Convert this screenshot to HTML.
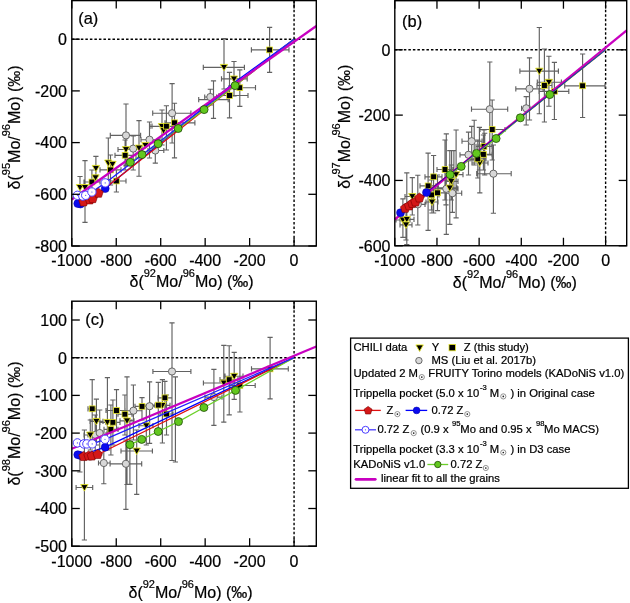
<!DOCTYPE html><html><head><meta charset="utf-8"><title>Mo isotopes</title>
<style>html,body{margin:0;padding:0;background:#fff;width:630px;height:603px;overflow:hidden}svg{display:block;font-family:"Liberation Sans", sans-serif;will-change:transform} text{stroke:#000;stroke-width:0.22px}</style></head><body>
<svg width="630" height="603" viewBox="0 0 630 603" font-size="16" fill="#000">
<line x1="71.8" y1="39.2" x2="316.3" y2="39.2" stroke="#000" stroke-width="1.4" stroke-dasharray="2.5 2.02"/>
<line x1="294.07" y1="0.6" x2="294.07" y2="246" stroke="#000" stroke-width="1.4" stroke-dasharray="2.5 2.02"/>
<path d="M198.7 99.6H228.2M198.7 97V102.2M228.2 97V102.2M213.5 80.8V118.3M210.9 80.8H216.1M210.9 118.3H216.1M204.7 97H216.6M204.7 94.4V99.6M216.6 94.4V99.6M210.3 89.2V105M207.7 89.2H212.9M207.7 105H212.9M152.7 113.2H190.9M152.7 110.6V115.8M190.9 110.6V115.8M172.1 83.6V143M169.5 83.6H174.7M169.5 143H174.7M110.3 135.4H140.6M110.3 132.8V138M140.6 132.8V138M126 104V166M123.4 104H128.6M123.4 166H128.6M141 139.7H160M141 137.1V142.3M160 137.1V142.3M149.5 122V158M146.9 122H152.1M146.9 158H152.1M126 148.6H142M126 146V151.2M142 146V151.2M133.2 136V170M130.6 136H135.8M130.6 170H135.8M148 150.5H163.8M148 147.9V153.1M163.8 147.9V153.1M155.3 140V163.1M152.7 140H157.9M152.7 163.1H157.9M251.4 49.9H289M251.4 47.3V52.5M289 47.3V52.5M269.6 27.4V72.3M267 27.4H272.2M267 72.3H272.2M229 87.7H255.5M229 85.1V90.3M255.5 85.1V90.3M239.8 69.8V106.3M237.2 69.8H242.4M237.2 106.3H242.4M219 95.5H248M219 92.9V98.1M248 92.9V98.1M229.5 72.3V117.9M226.9 72.3H232.1M226.9 117.9H232.1M165 122.8H194.9M165 120.2V125.4M194.9 120.2V125.4M174.5 103.2V157.8M171.9 103.2H177.1M171.9 157.8H177.1M152 126.2H180M152 123.6V128.8M180 123.6V128.8M166.4 105.7V150M163.8 105.7H169M163.8 150H169M115 155.3H136M115 152.7V157.9M136 152.7V157.9M125.1 140V170M122.5 140H127.7M122.5 170H127.7M100 169.9H121M100 167.3V172.5M121 167.3V172.5M110.5 155V185M107.9 155H113.1M107.9 185H113.1M108 181H126M108 178.4V183.6M126 178.4V183.6M116.4 170V192M113.8 170H119M113.8 192H119M84 182H100M84 179.4V184.6M100 179.4V184.6M91.9 170V195M89.3 170H94.5M89.3 195H94.5M203.3 67.3H244.4M203.3 64.7V69.9M244.4 64.7V69.9M224 38.6V89M221.4 38.6H226.6M221.4 89H226.6M221.5 78.9H247.2M221.5 76.3V81.5M247.2 76.3V81.5M234 61.5V96M231.4 61.5H236.6M231.4 96H236.6M150 126.4H175M150 123.8V129M175 123.8V129M162 110V145M159.4 110H164.6M159.4 145H164.6M118 149.5H135M118 146.9V152.1M135 146.9V152.1M126 135V165M123.4 135H128.6M123.4 165H128.6M139 120.6V176.2M136.4 120.6H141.6M136.4 176.2H141.6M108.3 138V185M105.7 138H110.9M105.7 185H110.9M95.9 156.4V180M93.3 156.4H98.5M93.3 180H98.5M80 176.5V200M77.4 176.5H82.6M77.4 200H82.6M85 160.6V222.3M82.4 160.6H87.6M82.4 222.3H87.6" stroke="#626262" stroke-width="1.15" fill="none"/>
<circle cx="210.3" cy="97" r="3.6" fill="#d8d8d8" stroke="#5a5a5a" stroke-width="0.9"/>
<circle cx="172.1" cy="113.2" r="3.6" fill="#d8d8d8" stroke="#5a5a5a" stroke-width="0.9"/>
<circle cx="126" cy="135.4" r="3.6" fill="#d8d8d8" stroke="#5a5a5a" stroke-width="0.9"/>
<circle cx="149.5" cy="139.7" r="3.6" fill="#d8d8d8" stroke="#5a5a5a" stroke-width="0.9"/>
<circle cx="133.2" cy="148.6" r="3.6" fill="#d8d8d8" stroke="#5a5a5a" stroke-width="0.9"/>
<circle cx="155.3" cy="150.5" r="3.6" fill="#d8d8d8" stroke="#5a5a5a" stroke-width="0.9"/>
<path d="M220.3 64.4H227.7L224 70.9Z" fill="#000" stroke="#e6e62a" stroke-width="0.9"/>
<path d="M230.3 76H237.7L234 82.5Z" fill="#000" stroke="#e6e62a" stroke-width="0.9"/>
<path d="M158.3 123.5H165.7L162 130Z" fill="#000" stroke="#e6e62a" stroke-width="0.9"/>
<path d="M159.8 127.6H167.2L163.5 134.1Z" fill="#000" stroke="#e6e62a" stroke-width="0.9"/>
<path d="M122.3 146.6H129.7L126 153.1Z" fill="#000" stroke="#e6e62a" stroke-width="0.9"/>
<path d="M135.3 145.1H142.7L139 151.6Z" fill="#000" stroke="#e6e62a" stroke-width="0.9"/>
<path d="M141.7 142.4H149.1L145.4 148.9Z" fill="#000" stroke="#e6e62a" stroke-width="0.9"/>
<path d="M104.6 160H112L108.3 166.5Z" fill="#000" stroke="#e6e62a" stroke-width="0.9"/>
<path d="M108.8 161.3H116.2L112.5 167.8Z" fill="#000" stroke="#e6e62a" stroke-width="0.9"/>
<path d="M92.2 165.4H99.6L95.9 171.9Z" fill="#000" stroke="#e6e62a" stroke-width="0.9"/>
<path d="M91.8 174.8H99.2L95.5 181.3Z" fill="#000" stroke="#e6e62a" stroke-width="0.9"/>
<path d="M76.3 184.5H83.7L80 191Z" fill="#000" stroke="#e6e62a" stroke-width="0.9"/>
<path d="M81.3 184.5H88.7L85 191Z" fill="#000" stroke="#e6e62a" stroke-width="0.9"/>
<rect x="266.7" y="47" width="5.8" height="5.8" fill="#000" stroke="#e6e62a" stroke-width="0.8"/>
<rect x="236.9" y="84.8" width="5.8" height="5.8" fill="#000" stroke="#e6e62a" stroke-width="0.8"/>
<rect x="226.6" y="92.6" width="5.8" height="5.8" fill="#000" stroke="#e6e62a" stroke-width="0.8"/>
<rect x="171.6" y="119.9" width="5.8" height="5.8" fill="#000" stroke="#e6e62a" stroke-width="0.8"/>
<rect x="163.5" y="123.3" width="5.8" height="5.8" fill="#000" stroke="#e6e62a" stroke-width="0.8"/>
<rect x="122.2" y="152.4" width="5.8" height="5.8" fill="#000" stroke="#e6e62a" stroke-width="0.8"/>
<rect x="107.6" y="167" width="5.8" height="5.8" fill="#000" stroke="#e6e62a" stroke-width="0.8"/>
<rect x="113.5" y="178.1" width="5.8" height="5.8" fill="#000" stroke="#e6e62a" stroke-width="0.8"/>
<rect x="89" y="179.1" width="5.8" height="5.8" fill="#000" stroke="#e6e62a" stroke-width="0.8"/>
<polyline points="294.07,39.2 235,82 105.2,188.6 80.5,204 77.8,203.6" fill="none" stroke="#0000ff" stroke-width="1.3" stroke-linejoin="round"/>
<polyline points="294.07,39.2 98.5,193.2 92.7,198.6 89.8,199.9 83.6,201.9" fill="none" stroke="#e01010" stroke-width="1.3" stroke-linejoin="round"/>
<polyline points="294.07,39.2 235.1,85.6 204.1,109.6 178.2,128.5 158.1,143.7 142,154.6 130.3,162.3" fill="none" stroke="#6cd02a" stroke-width="1.3" stroke-linejoin="round"/>
<polyline points="294.07,39.2 105.2,182.9 91.9,192 85.7,195.3 82.8,196.1 77.4,195.3" fill="none" stroke="#1e1eff" stroke-width="1.3" stroke-linejoin="round"/>
<polyline points="71.8,199.5 316.3,26" fill="none" stroke="#c800c0" stroke-width="2.2" stroke-linejoin="round"/>
<circle cx="105.2" cy="188.6" r="4.0" fill="#0a0aee" stroke="#0000a0" stroke-width="0.5"/>
<circle cx="80.5" cy="204" r="4.0" fill="#0a0aee" stroke="#0000a0" stroke-width="0.5"/>
<circle cx="77.8" cy="203.6" r="4.0" fill="#0a0aee" stroke="#0000a0" stroke-width="0.5"/>
<polygon points="83.6,196.9 88.36,200.35 86.54,205.95 80.66,205.95 78.84,200.35" fill="#d41818" stroke="#7a0000" stroke-width="0.6"/>
<polygon points="89.8,194.9 94.56,198.35 92.74,203.95 86.86,203.95 85.04,198.35" fill="#d41818" stroke="#7a0000" stroke-width="0.6"/>
<polygon points="92.7,193.6 97.46,197.05 95.64,202.65 89.76,202.65 87.94,197.05" fill="#d41818" stroke="#7a0000" stroke-width="0.6"/>
<polygon points="98.5,188.2 103.26,191.65 101.44,197.25 95.56,197.25 93.74,191.65" fill="#d41818" stroke="#7a0000" stroke-width="0.6"/>
<circle cx="77.4" cy="195.3" r="4.2" fill="#fff" stroke="#4a3cff" stroke-width="1"/><circle cx="77.4" cy="195.3" r="0.6" fill="#4a3cff"/>
<circle cx="82.8" cy="196.1" r="4.2" fill="#fff" stroke="#4a3cff" stroke-width="1"/><circle cx="82.8" cy="196.1" r="0.6" fill="#4a3cff"/>
<circle cx="85.7" cy="195.3" r="4.2" fill="#fff" stroke="#4a3cff" stroke-width="1"/><circle cx="85.7" cy="195.3" r="0.6" fill="#4a3cff"/>
<circle cx="91.9" cy="192" r="4.2" fill="#fff" stroke="#4a3cff" stroke-width="1"/><circle cx="91.9" cy="192" r="0.6" fill="#4a3cff"/>
<circle cx="105.2" cy="182.9" r="4.2" fill="#fff" stroke="#4a3cff" stroke-width="1"/><circle cx="105.2" cy="182.9" r="0.6" fill="#4a3cff"/>
<circle cx="235.1" cy="85.6" r="4.0" fill="#62c81e" stroke="#1e4a06" stroke-width="0.8"/>
<circle cx="204.1" cy="109.6" r="4.0" fill="#62c81e" stroke="#1e4a06" stroke-width="0.8"/>
<circle cx="178.2" cy="128.5" r="4.0" fill="#62c81e" stroke="#1e4a06" stroke-width="0.8"/>
<circle cx="158.1" cy="143.7" r="4.0" fill="#62c81e" stroke="#1e4a06" stroke-width="0.8"/>
<circle cx="142" cy="154.6" r="4.0" fill="#62c81e" stroke="#1e4a06" stroke-width="0.8"/>
<circle cx="130.3" cy="162.3" r="4.0" fill="#62c81e" stroke="#1e4a06" stroke-width="0.8"/>
<rect x="71.8" y="0.6" width="244.5" height="245.4" fill="none" stroke="#000" stroke-width="1.4"/>
<line x1="71.8" y1="246" x2="71.8" y2="238" stroke="#000" stroke-width="1.3"/>
<line x1="71.8" y1="0.6" x2="71.8" y2="8.6" stroke="#000" stroke-width="1.3"/>
<text x="71.8" y="266.3" text-anchor="middle">-1000</text>
<line x1="116.25" y1="246" x2="116.25" y2="238" stroke="#000" stroke-width="1.3"/>
<line x1="116.25" y1="0.6" x2="116.25" y2="8.6" stroke="#000" stroke-width="1.3"/>
<text x="116.25" y="266.3" text-anchor="middle">-800</text>
<line x1="160.71" y1="246" x2="160.71" y2="238" stroke="#000" stroke-width="1.3"/>
<line x1="160.71" y1="0.6" x2="160.71" y2="8.6" stroke="#000" stroke-width="1.3"/>
<text x="160.71" y="266.3" text-anchor="middle">-600</text>
<line x1="205.16" y1="246" x2="205.16" y2="238" stroke="#000" stroke-width="1.3"/>
<line x1="205.16" y1="0.6" x2="205.16" y2="8.6" stroke="#000" stroke-width="1.3"/>
<text x="205.16" y="266.3" text-anchor="middle">-400</text>
<line x1="249.62" y1="246" x2="249.62" y2="238" stroke="#000" stroke-width="1.3"/>
<line x1="249.62" y1="0.6" x2="249.62" y2="8.6" stroke="#000" stroke-width="1.3"/>
<text x="249.62" y="266.3" text-anchor="middle">-200</text>
<line x1="294.07" y1="246" x2="294.07" y2="238" stroke="#000" stroke-width="1.3"/>
<line x1="294.07" y1="0.6" x2="294.07" y2="8.6" stroke="#000" stroke-width="1.3"/>
<text x="294.07" y="266.3" text-anchor="middle">0</text>
<line x1="71.8" y1="39.2" x2="79.8" y2="39.2" stroke="#000" stroke-width="1.3"/>
<line x1="316.3" y1="39.2" x2="308.3" y2="39.2" stroke="#000" stroke-width="1.3"/>
<text x="67" y="45" text-anchor="end">0</text>
<line x1="71.8" y1="90.9" x2="79.8" y2="90.9" stroke="#000" stroke-width="1.3"/>
<line x1="316.3" y1="90.9" x2="308.3" y2="90.9" stroke="#000" stroke-width="1.3"/>
<text x="67" y="96.7" text-anchor="end">-200</text>
<line x1="71.8" y1="142.6" x2="79.8" y2="142.6" stroke="#000" stroke-width="1.3"/>
<line x1="316.3" y1="142.6" x2="308.3" y2="142.6" stroke="#000" stroke-width="1.3"/>
<text x="67" y="148.4" text-anchor="end">-400</text>
<line x1="71.8" y1="194.3" x2="79.8" y2="194.3" stroke="#000" stroke-width="1.3"/>
<line x1="316.3" y1="194.3" x2="308.3" y2="194.3" stroke="#000" stroke-width="1.3"/>
<text x="67" y="200.1" text-anchor="end">-600</text>
<line x1="71.8" y1="246" x2="79.8" y2="246" stroke="#000" stroke-width="1.3"/>
<line x1="316.3" y1="246" x2="308.3" y2="246" stroke="#000" stroke-width="1.3"/>
<text x="67" y="251.8" text-anchor="end">-800</text>
<line x1="394.8" y1="49.8" x2="626.7" y2="49.8" stroke="#000" stroke-width="1.4" stroke-dasharray="2.5 2.02"/>
<line x1="605.62" y1="0.7" x2="605.62" y2="245.75" stroke="#000" stroke-width="1.4" stroke-dasharray="2.5 2.02"/>
<path d="M446 180V204.8M443.4 180H448.6M443.4 204.8H448.6M474.2 120.2V165M471.6 120.2H476.8M471.6 165H476.8M479.4 127.4V170M476.8 127.4H482M476.8 170H482M484.7 133.2V175M482.1 133.2H487.3M482.1 175H487.3M451.6 150.6V190M449 150.6H454.2M449 190H454.2M453.9 150.6V195M451.3 150.6H456.5M451.3 195H456.5M471.5 109.2H507.7M471.5 106.6V111.8M507.7 106.6V111.8M489.8 62V155M487.2 62H492.4M487.2 155H492.4M476.7 173.7H511.2M476.7 171.1V176.3M511.2 171.1V176.3M493.4 145V213.2M490.8 145H496M490.8 213.2H496M521.6 108.3H530M521.6 105.7V110.9M530 105.7V110.9M526.2 96.6V125M523.6 96.6H528.8M523.6 125H528.8M515.8 88.8H543.1M515.8 86.2V91.4M543.1 86.2V91.4M529.5 57.8V120M526.9 57.8H532.1M526.9 120H532.1M462 141.2H482M462 138.6V143.8M482 138.6V143.8M471.7 126.3V160M469.1 126.3H474.3M469.1 160H474.3M460 154.8H478M460 152.2V157.4M478 152.2V157.4M468.5 132.1V175M465.9 132.1H471.1M465.9 175H471.1M435 188.8H458M435 186.2V191.4M458 186.2V191.4M446.3 133.8V234.3M443.7 133.8H448.9M443.7 234.3H448.9M445 193.2H461.7M445 190.6V195.8M461.7 190.6V195.8M452.4 175V212.3M449.8 175H455M449.8 212.3H455M410 204.3H425M410 201.7V206.9M425 201.7V206.9M417.8 175.2V225M415.2 175.2H420.4M415.2 225H420.4M564.7 85.8H605M564.7 83.2V88.4M605 83.2V88.4M582.6 54V117.5M580 54H585.2M580 117.5H585.2M537 85.5H552M537 82.9V88.1M552 82.9V88.1M544.4 49V122M541.8 49H547M541.8 122H547M539 91.3H568.8M539 88.7V93.9M568.8 88.7V93.9M554.4 62.3V119.5M551.8 62.3H557M551.8 119.5H557M480 129.5H505M480 126.9V132.1M505 126.9V132.1M492.2 100V160M489.6 100H494.8M489.6 160H494.8M476 146.4H492M476 143.8V149M492 143.8V149M484 130V163M481.4 130H486.6M481.4 163H486.6M475 154.4H492M475 151.8V157M492 151.8V157M483.4 135V170M480.8 135H486M480.8 170H486M470 158.9H486M470 156.3V161.5M486 156.3V161.5M477.8 140V178M475.2 140H480.4M475.2 178H480.4M437 169.5H453M437 166.9V172.1M453 166.9V172.1M445 140V200M442.4 140H447.6M442.4 200H447.6M425 176.8H442M425 174.2V179.4M442 174.2V179.4M433.6 155.5V213M431 155.5H436.2M431 213H436.2M420 185.9H436M420 183.3V188.5M436 183.3V188.5M428.1 153.1V230.3M425.5 153.1H430.7M425.5 230.3H430.7M430 192.8H445M430 190.2V195.4M445 190.2V195.4M437.5 175V210.6M434.9 175H440.1M434.9 210.6H440.1M424 194.9H439M424 192.3V197.5M439 192.3V197.5M431.5 180V210M428.9 180H434.1M428.9 210H434.1M519.9 71.1H558.4M519.9 68.5V73.7M558.4 68.5V73.7M539.3 27.5V113.7M536.7 27.5H541.9M536.7 113.7H541.9M537.3 82.2H561.4M537.3 79.6V84.8M561.4 79.6V84.8M548.9 56.2V106.2M546.3 56.2H551.5M546.3 106.2H551.5M472 163H488M472 160.4V165.6M488 160.4V165.6M479.8 145V192.9M477.2 145H482.4M477.2 192.9H482.4M445 181.3H458M445 178.7V183.9M458 178.7V183.9M451.3 165V200M448.7 165H453.9M448.7 200H453.9M450 174.6H463M450 172V177.2M463 172V177.2M456.1 130V217.8M453.5 130H458.7M453.5 217.8H458.7M438.5 187.9H457M438.5 185.3V190.5M457 185.3V190.5M449.8 150.6V224.3M447.2 150.6H452.4M447.2 224.3H452.4M426 202H438M426 199.4V204.6M438 199.4V204.6M432 190V213M429.4 190H434.6M429.4 213H434.6M396 220H410M396 217.4V222.6M410 217.4V222.6M402.9 198.8V237.4M400.3 198.8H405.5M400.3 237.4H405.5M400 219.3H414M400 216.7V221.9M414 216.7V221.9M406.8 172.8V244.5M404.2 172.8H409.4M404.2 244.5H409.4M400 224.8H412M400 222.2V227.4M412 222.2V227.4M406 205V240M403.4 205H408.6M403.4 240H408.6M405 196.5H420M405 193.9V199.1M420 193.9V199.1M412.3 177.6V215M409.7 177.6H414.9M409.7 215H414.9" stroke="#626262" stroke-width="1.15" fill="none"/>
<circle cx="489.8" cy="109.2" r="3.6" fill="#d8d8d8" stroke="#5a5a5a" stroke-width="0.9"/>
<circle cx="493.4" cy="173.7" r="3.6" fill="#d8d8d8" stroke="#5a5a5a" stroke-width="0.9"/>
<circle cx="526.2" cy="108.3" r="3.6" fill="#d8d8d8" stroke="#5a5a5a" stroke-width="0.9"/>
<circle cx="529.5" cy="88.8" r="3.6" fill="#d8d8d8" stroke="#5a5a5a" stroke-width="0.9"/>
<circle cx="471.7" cy="141.2" r="3.6" fill="#d8d8d8" stroke="#5a5a5a" stroke-width="0.9"/>
<circle cx="468.5" cy="154.8" r="3.6" fill="#d8d8d8" stroke="#5a5a5a" stroke-width="0.9"/>
<circle cx="446.3" cy="188.8" r="3.6" fill="#d8d8d8" stroke="#5a5a5a" stroke-width="0.9"/>
<circle cx="452.4" cy="193.2" r="3.6" fill="#d8d8d8" stroke="#5a5a5a" stroke-width="0.9"/>
<circle cx="417.8" cy="204.3" r="3.6" fill="#d8d8d8" stroke="#5a5a5a" stroke-width="0.9"/>
<path d="M535.6 68.2H543L539.3 74.7Z" fill="#000" stroke="#e6e62a" stroke-width="0.9"/>
<path d="M545.2 79.3H552.6L548.9 85.8Z" fill="#000" stroke="#e6e62a" stroke-width="0.9"/>
<path d="M476.1 160.1H483.5L479.8 166.6Z" fill="#000" stroke="#e6e62a" stroke-width="0.9"/>
<path d="M447.6 178.4H455L451.3 184.9Z" fill="#000" stroke="#e6e62a" stroke-width="0.9"/>
<path d="M452.4 171.7H459.8L456.1 178.2Z" fill="#000" stroke="#e6e62a" stroke-width="0.9"/>
<path d="M446.1 185H453.5L449.8 191.5Z" fill="#000" stroke="#e6e62a" stroke-width="0.9"/>
<path d="M428.3 199.1H435.7L432 205.6Z" fill="#000" stroke="#e6e62a" stroke-width="0.9"/>
<path d="M399.2 217.1H406.6L402.9 223.6Z" fill="#000" stroke="#e6e62a" stroke-width="0.9"/>
<path d="M403.1 216.4H410.5L406.8 222.9Z" fill="#000" stroke="#e6e62a" stroke-width="0.9"/>
<path d="M402.3 221.9H409.7L406 228.4Z" fill="#000" stroke="#e6e62a" stroke-width="0.9"/>
<path d="M408.6 193.6H416L412.3 200.1Z" fill="#000" stroke="#e6e62a" stroke-width="0.9"/>
<rect x="579.7" y="82.9" width="5.8" height="5.8" fill="#000" stroke="#e6e62a" stroke-width="0.8"/>
<rect x="541.5" y="82.6" width="5.8" height="5.8" fill="#000" stroke="#e6e62a" stroke-width="0.8"/>
<rect x="551.5" y="88.4" width="5.8" height="5.8" fill="#000" stroke="#e6e62a" stroke-width="0.8"/>
<rect x="489.3" y="126.6" width="5.8" height="5.8" fill="#000" stroke="#e6e62a" stroke-width="0.8"/>
<rect x="481.1" y="143.5" width="5.8" height="5.8" fill="#000" stroke="#e6e62a" stroke-width="0.8"/>
<rect x="480.5" y="151.5" width="5.8" height="5.8" fill="#000" stroke="#e6e62a" stroke-width="0.8"/>
<rect x="474.9" y="156" width="5.8" height="5.8" fill="#000" stroke="#e6e62a" stroke-width="0.8"/>
<rect x="442.1" y="166.6" width="5.8" height="5.8" fill="#000" stroke="#e6e62a" stroke-width="0.8"/>
<rect x="430.7" y="173.9" width="5.8" height="5.8" fill="#000" stroke="#e6e62a" stroke-width="0.8"/>
<rect x="425.2" y="183" width="5.8" height="5.8" fill="#000" stroke="#e6e62a" stroke-width="0.8"/>
<rect x="434.6" y="189.9" width="5.8" height="5.8" fill="#000" stroke="#e6e62a" stroke-width="0.8"/>
<rect x="428.6" y="192" width="5.8" height="5.8" fill="#000" stroke="#e6e62a" stroke-width="0.8"/>
<polyline points="394.8,219.5 626.7,30.3" fill="none" stroke="#c800c0" stroke-width="2.3" stroke-linejoin="round"/>
<polyline points="605.62,49.8 419.4,198 415.5,202 412.3,203.5 409.2,205.9 405.2,208.3" fill="none" stroke="#e01010" stroke-width="1.2" stroke-linejoin="round"/>
<polyline points="605.62,49.8 549.8,94.6 520.3,117.8 496.1,138.5 476.5,153.4 461.2,166.4 450.1,174.7" fill="none" stroke="#6cd02a" stroke-width="1.1" stroke-linejoin="round"/>
<polyline points="605.62,49.8 426.5,192.5 400.5,212.7" fill="none" stroke="#0000ff" stroke-width="0.9" stroke-linejoin="round"/>
<circle cx="426.5" cy="192.5" r="4.0" fill="#0a0aee" stroke="#0000a0" stroke-width="0.5"/>
<circle cx="400.5" cy="212.7" r="4.0" fill="#0a0aee" stroke="#0000a0" stroke-width="0.5"/>
<polygon points="405.2,203.3 409.96,206.75 408.14,212.35 402.26,212.35 400.44,206.75" fill="#d41818" stroke="#7a0000" stroke-width="0.6"/>
<polygon points="409.2,200.9 413.96,204.35 412.14,209.95 406.26,209.95 404.44,204.35" fill="#d41818" stroke="#7a0000" stroke-width="0.6"/>
<polygon points="412.3,198.5 417.06,201.95 415.24,207.55 409.36,207.55 407.54,201.95" fill="#d41818" stroke="#7a0000" stroke-width="0.6"/>
<polygon points="415.5,197 420.26,200.45 418.44,206.05 412.56,206.05 410.74,200.45" fill="#d41818" stroke="#7a0000" stroke-width="0.6"/>
<polygon points="419.4,193 424.16,196.45 422.34,202.05 416.46,202.05 414.64,196.45" fill="#d41818" stroke="#7a0000" stroke-width="0.6"/>
<circle cx="549.8" cy="94.6" r="4.0" fill="#62c81e" stroke="#1e4a06" stroke-width="0.8"/>
<circle cx="520.3" cy="117.8" r="4.0" fill="#62c81e" stroke="#1e4a06" stroke-width="0.8"/>
<circle cx="496.1" cy="138.5" r="4.0" fill="#62c81e" stroke="#1e4a06" stroke-width="0.8"/>
<circle cx="476.5" cy="153.4" r="4.0" fill="#62c81e" stroke="#1e4a06" stroke-width="0.8"/>
<circle cx="461.2" cy="166.4" r="4.0" fill="#62c81e" stroke="#1e4a06" stroke-width="0.8"/>
<circle cx="450.1" cy="174.7" r="4.0" fill="#62c81e" stroke="#1e4a06" stroke-width="0.8"/>
<rect x="394.8" y="0.7" width="231.9" height="245.05" fill="none" stroke="#000" stroke-width="1.4"/>
<line x1="394.8" y1="245.75" x2="394.8" y2="237.75" stroke="#000" stroke-width="1.3"/>
<line x1="394.8" y1="0.7" x2="394.8" y2="8.7" stroke="#000" stroke-width="1.3"/>
<text x="394.8" y="266.3" text-anchor="middle">-1000</text>
<line x1="436.96" y1="245.75" x2="436.96" y2="237.75" stroke="#000" stroke-width="1.3"/>
<line x1="436.96" y1="0.7" x2="436.96" y2="8.7" stroke="#000" stroke-width="1.3"/>
<text x="436.96" y="266.3" text-anchor="middle">-800</text>
<line x1="479.13" y1="245.75" x2="479.13" y2="237.75" stroke="#000" stroke-width="1.3"/>
<line x1="479.13" y1="0.7" x2="479.13" y2="8.7" stroke="#000" stroke-width="1.3"/>
<text x="479.13" y="266.3" text-anchor="middle">-600</text>
<line x1="521.29" y1="245.75" x2="521.29" y2="237.75" stroke="#000" stroke-width="1.3"/>
<line x1="521.29" y1="0.7" x2="521.29" y2="8.7" stroke="#000" stroke-width="1.3"/>
<text x="521.29" y="266.3" text-anchor="middle">-400</text>
<line x1="563.45" y1="245.75" x2="563.45" y2="237.75" stroke="#000" stroke-width="1.3"/>
<line x1="563.45" y1="0.7" x2="563.45" y2="8.7" stroke="#000" stroke-width="1.3"/>
<text x="563.45" y="266.3" text-anchor="middle">-200</text>
<line x1="605.62" y1="245.75" x2="605.62" y2="237.75" stroke="#000" stroke-width="1.3"/>
<line x1="605.62" y1="0.7" x2="605.62" y2="8.7" stroke="#000" stroke-width="1.3"/>
<text x="605.62" y="266.3" text-anchor="middle">0</text>
<line x1="394.8" y1="49.8" x2="402.8" y2="49.8" stroke="#000" stroke-width="1.3"/>
<line x1="626.7" y1="49.8" x2="618.7" y2="49.8" stroke="#000" stroke-width="1.3"/>
<text x="390.5" y="55.6" text-anchor="end">0</text>
<line x1="394.8" y1="115.12" x2="402.8" y2="115.12" stroke="#000" stroke-width="1.3"/>
<line x1="626.7" y1="115.12" x2="618.7" y2="115.12" stroke="#000" stroke-width="1.3"/>
<text x="390.5" y="120.92" text-anchor="end">-200</text>
<line x1="394.8" y1="180.44" x2="402.8" y2="180.44" stroke="#000" stroke-width="1.3"/>
<line x1="626.7" y1="180.44" x2="618.7" y2="180.44" stroke="#000" stroke-width="1.3"/>
<text x="390.5" y="186.24" text-anchor="end">-400</text>
<line x1="394.8" y1="245.76" x2="402.8" y2="245.76" stroke="#000" stroke-width="1.3"/>
<line x1="626.7" y1="245.76" x2="618.7" y2="245.76" stroke="#000" stroke-width="1.3"/>
<text x="390.5" y="251.56" text-anchor="end">-600</text>
<line x1="71.8" y1="357.7" x2="316.3" y2="357.7" stroke="#000" stroke-width="1.4" stroke-dasharray="2.5 2.02"/>
<line x1="294.07" y1="301.2" x2="294.07" y2="546.2" stroke="#000" stroke-width="1.4" stroke-dasharray="2.5 2.02"/>
<path d="M175.4 376.8V462M172.8 376.8H178M172.8 462H178M129.9 420V484.3M127.3 420H132.5M127.3 484.3H132.5M79.9 455V472M77.3 455H82.5M77.3 472H82.5M152.9 371.5H190.9M152.9 368.9V374.1M190.9 368.9V374.1M172 322.9V460.5M169.4 322.9H174.6M169.4 460.5H174.6M125 410.7H142M125 408.1V413.3M142 408.1V413.3M133.4 385V440M130.8 385H136M130.8 440H136M142 406.2H158M142 403.6V408.8M158 403.6V408.8M149.6 381.8V443.4M147 381.8H152.2M147 443.4H152.2M88 434.8H102M88 432.2V437.4M102 432.2V437.4M95.2 415V455M92.6 415H97.8M92.6 455H97.8M92 433H107M92 430.4V435.6M107 430.4V435.6M99.7 410V455M97.1 410H102.3M97.1 455H102.3M98.5 463H110.1M98.5 460.4V465.6M110.1 460.4V465.6M103.8 440V483.7M101.2 440H106.4M101.2 483.7H106.4M110.1 463.8H141.7M110.1 461.2V466.4M141.7 461.2V466.4M125.9 440V509.3M123.3 440H128.5M123.3 509.3H128.5M205 397.1H222M205 394.5V399.7M222 394.5V399.7M213.9 369.4V425.4M211.3 369.4H216.5M211.3 425.4H216.5M88 408.8H96M88 406.2V411.4M96 406.2V411.4M92.2 379.6V440M89.6 379.6H94.8M89.6 440H94.8M106 410.5H127M106 407.9V413.1M127 407.9V413.1M116.5 389.6V430M113.9 389.6H119.1M113.9 430H119.1M118 414.2H132M118 411.6V416.8M132 411.6V416.8M124.9 395V435M122.3 395H127.5M122.3 435H127.5M106 422.3H120M106 419.7V424.9M120 419.7V424.9M112.9 400V445M110.3 400H115.5M110.3 445H115.5M104 429.4H118M104 426.8V432M118 426.8V432M110.9 405V455M108.3 405H113.5M108.3 455H113.5M135 406.4H149M135 403.8V409M149 403.8V409M142 397.6V420M139.4 397.6H144.6M139.4 420H144.6M150 405.1H166M150 402.5V407.7M166 402.5V407.7M158.3 382.4V430M155.7 382.4H160.9M155.7 430H160.9M158 397.8H172M158 395.2V400.4M172 395.2V400.4M164.9 381.4V415M162.3 381.4H167.5M162.3 415H167.5M160 414H173M160 411.4V416.6M173 411.4V416.6M166.5 395V435M163.9 395H169.1M163.9 435H169.1M220 379.7H238M220 377.1V382.3M238 377.1V382.3M229.2 345.7V414.9M226.6 345.7H231.8M226.6 414.9H231.8M230 385.5H255.2M230 382.9V388.1M255.2 382.9V388.1M239.9 358.1V412M237.3 358.1H242.5M237.3 412H242.5M251.5 368.9H288.3M251.5 366.3V371.5M288.3 366.3V371.5M270.1 337.4V398.8M267.5 337.4H272.7M267.5 398.8H272.7M90 421.3H103M90 418.7V423.9M103 418.7V423.9M96.4 399.1V445M93.8 399.1H99M93.8 445H99M100 422.3H114M100 419.7V424.9M114 419.7V424.9M107.4 377.6V450M104.8 377.6H110M104.8 450H110M120 420.8H134M120 418.2V423.4M134 418.2V423.4M127 376.8V484.5M124.4 376.8H129.6M124.4 484.5H129.6M84 435H97M84 432.4V437.6M97 432.4V437.6M90.3 420V450M87.7 420H92.9M87.7 450H92.9M139 425.7H153M139 423.1V428.3M153 423.1V428.3M146.3 405V445M143.7 405H148.9M143.7 445H148.9M121 451H152.4M121 448.4V453.6M152.4 448.4V453.6M136.7 430V494.3M134.1 430H139.3M134.1 494.3H139.3M76.1 487.5H92.7M76.1 484.9V490.1M92.7 484.9V490.1M84.4 430V540M81.8 430H87M81.8 540H87M155 405.3H170M155 402.7V407.9M170 402.7V407.9M162.4 379.6V443M159.8 379.6H165M159.8 443H165M225 376.2H243M225 373.6V378.8M243 373.6V378.8M234.2 352.3V399.3M231.6 352.3H236.8M231.6 399.3H236.8M203.4 383H240M203.4 380.4V385.6M240 380.4V385.6M223.8 345.3V422.1M221.2 345.3H226.4M221.2 422.1H226.4" stroke="#626262" stroke-width="1.15" fill="none"/>
<circle cx="172" cy="371.5" r="3.6" fill="#d8d8d8" stroke="#5a5a5a" stroke-width="0.9"/>
<circle cx="133.4" cy="410.7" r="3.6" fill="#d8d8d8" stroke="#5a5a5a" stroke-width="0.9"/>
<circle cx="149.6" cy="406.2" r="3.6" fill="#d8d8d8" stroke="#5a5a5a" stroke-width="0.9"/>
<circle cx="95.2" cy="434.8" r="3.6" fill="#d8d8d8" stroke="#5a5a5a" stroke-width="0.9"/>
<circle cx="99.7" cy="433" r="3.6" fill="#d8d8d8" stroke="#5a5a5a" stroke-width="0.9"/>
<circle cx="103.8" cy="463" r="3.6" fill="#d8d8d8" stroke="#5a5a5a" stroke-width="0.9"/>
<circle cx="125.9" cy="463.8" r="3.6" fill="#d8d8d8" stroke="#5a5a5a" stroke-width="0.9"/>
<circle cx="213.9" cy="397.1" r="3.6" fill="#d8d8d8" stroke="#5a5a5a" stroke-width="0.9"/>
<path d="M92.7 418.4H100.1L96.4 424.9Z" fill="#000" stroke="#e6e62a" stroke-width="0.9"/>
<path d="M103.7 419.4H111.1L107.4 425.9Z" fill="#000" stroke="#e6e62a" stroke-width="0.9"/>
<path d="M123.3 417.9H130.7L127 424.4Z" fill="#000" stroke="#e6e62a" stroke-width="0.9"/>
<path d="M86.6 432.1H94L90.3 438.6Z" fill="#000" stroke="#e6e62a" stroke-width="0.9"/>
<path d="M142.6 422.8H150L146.3 429.3Z" fill="#000" stroke="#e6e62a" stroke-width="0.9"/>
<path d="M133 448.1H140.4L136.7 454.6Z" fill="#000" stroke="#e6e62a" stroke-width="0.9"/>
<path d="M80.7 484.6H88.1L84.4 491.1Z" fill="#000" stroke="#e6e62a" stroke-width="0.9"/>
<path d="M158.7 402.4H166.1L162.4 408.9Z" fill="#000" stroke="#e6e62a" stroke-width="0.9"/>
<path d="M230.5 373.3H237.9L234.2 379.8Z" fill="#000" stroke="#e6e62a" stroke-width="0.9"/>
<path d="M220.1 380.1H227.5L223.8 386.6Z" fill="#000" stroke="#e6e62a" stroke-width="0.9"/>
<rect x="89.3" y="405.9" width="5.8" height="5.8" fill="#000" stroke="#e6e62a" stroke-width="0.8"/>
<rect x="113.6" y="407.6" width="5.8" height="5.8" fill="#000" stroke="#e6e62a" stroke-width="0.8"/>
<rect x="122" y="411.3" width="5.8" height="5.8" fill="#000" stroke="#e6e62a" stroke-width="0.8"/>
<rect x="110" y="419.4" width="5.8" height="5.8" fill="#000" stroke="#e6e62a" stroke-width="0.8"/>
<rect x="108" y="426.5" width="5.8" height="5.8" fill="#000" stroke="#e6e62a" stroke-width="0.8"/>
<rect x="139.1" y="403.5" width="5.8" height="5.8" fill="#000" stroke="#e6e62a" stroke-width="0.8"/>
<rect x="155.4" y="402.2" width="5.8" height="5.8" fill="#000" stroke="#e6e62a" stroke-width="0.8"/>
<rect x="162" y="394.9" width="5.8" height="5.8" fill="#000" stroke="#e6e62a" stroke-width="0.8"/>
<rect x="163.6" y="411.1" width="5.8" height="5.8" fill="#000" stroke="#e6e62a" stroke-width="0.8"/>
<rect x="226.3" y="376.8" width="5.8" height="5.8" fill="#000" stroke="#e6e62a" stroke-width="0.8"/>
<rect x="237" y="382.6" width="5.8" height="5.8" fill="#000" stroke="#e6e62a" stroke-width="0.8"/>
<rect x="267.2" y="366" width="5.8" height="5.8" fill="#000" stroke="#e6e62a" stroke-width="0.8"/>
<polyline points="294.07,357.7 105.2,447.2 80.5,455.5 77.8,454.7" fill="none" stroke="#0000ff" stroke-width="1.3" stroke-linejoin="round"/>
<polyline points="294.07,357.7 97.7,454.5 91.9,456 88.6,456 83.6,456.5" fill="none" stroke="#e01010" stroke-width="1.3" stroke-linejoin="round"/>
<polyline points="294.07,357.7 235.5,390.4 203.9,407.5 178.5,421.6 158.2,431.5 141.7,439.4 130,444.7" fill="none" stroke="#6cd02a" stroke-width="1.3" stroke-linejoin="round"/>
<polyline points="294.07,357.7 105,439.3 92.2,443.9 86.9,443.9 83.8,443.9 77.4,442.9" fill="none" stroke="#1e1eff" stroke-width="1.3" stroke-linejoin="round"/>
<polyline points="71.8,448.8 316.3,346.5" fill="none" stroke="#c800c0" stroke-width="2.2" stroke-linejoin="round"/>
<circle cx="105.2" cy="447.2" r="4.0" fill="#0a0aee" stroke="#0000a0" stroke-width="0.5"/>
<circle cx="80.5" cy="455.5" r="4.0" fill="#0a0aee" stroke="#0000a0" stroke-width="0.5"/>
<circle cx="77.8" cy="454.7" r="4.0" fill="#0a0aee" stroke="#0000a0" stroke-width="0.5"/>
<polygon points="83.6,451.5 88.36,454.95 86.54,460.55 80.66,460.55 78.84,454.95" fill="#d41818" stroke="#7a0000" stroke-width="0.6"/>
<polygon points="88.6,451 93.36,454.45 91.54,460.05 85.66,460.05 83.84,454.45" fill="#d41818" stroke="#7a0000" stroke-width="0.6"/>
<polygon points="91.9,451 96.66,454.45 94.84,460.05 88.96,460.05 87.14,454.45" fill="#d41818" stroke="#7a0000" stroke-width="0.6"/>
<polygon points="97.7,449.5 102.46,452.95 100.64,458.55 94.76,458.55 92.94,452.95" fill="#d41818" stroke="#7a0000" stroke-width="0.6"/>
<circle cx="77.4" cy="442.9" r="4.2" fill="#fff" stroke="#4a3cff" stroke-width="1"/><circle cx="77.4" cy="442.9" r="0.6" fill="#4a3cff"/>
<circle cx="83.8" cy="443.9" r="4.2" fill="#fff" stroke="#4a3cff" stroke-width="1"/><circle cx="83.8" cy="443.9" r="0.6" fill="#4a3cff"/>
<circle cx="86.9" cy="443.9" r="4.2" fill="#fff" stroke="#4a3cff" stroke-width="1"/><circle cx="86.9" cy="443.9" r="0.6" fill="#4a3cff"/>
<circle cx="92.2" cy="443.9" r="4.2" fill="#fff" stroke="#4a3cff" stroke-width="1"/><circle cx="92.2" cy="443.9" r="0.6" fill="#4a3cff"/>
<circle cx="105" cy="439.3" r="4.2" fill="#fff" stroke="#4a3cff" stroke-width="1"/><circle cx="105" cy="439.3" r="0.6" fill="#4a3cff"/>
<circle cx="235.5" cy="390.4" r="4.0" fill="#62c81e" stroke="#1e4a06" stroke-width="0.8"/>
<circle cx="203.9" cy="407.5" r="4.0" fill="#62c81e" stroke="#1e4a06" stroke-width="0.8"/>
<circle cx="178.5" cy="421.6" r="4.0" fill="#62c81e" stroke="#1e4a06" stroke-width="0.8"/>
<circle cx="158.2" cy="431.5" r="4.0" fill="#62c81e" stroke="#1e4a06" stroke-width="0.8"/>
<circle cx="141.7" cy="439.4" r="4.0" fill="#62c81e" stroke="#1e4a06" stroke-width="0.8"/>
<circle cx="130" cy="444.7" r="4.0" fill="#62c81e" stroke="#1e4a06" stroke-width="0.8"/>
<rect x="71.8" y="301.2" width="244.5" height="245" fill="none" stroke="#000" stroke-width="1.4"/>
<line x1="71.8" y1="546.2" x2="71.8" y2="538.2" stroke="#000" stroke-width="1.3"/>
<line x1="71.8" y1="301.2" x2="71.8" y2="309.2" stroke="#000" stroke-width="1.3"/>
<text x="71.8" y="566.8" text-anchor="middle">-1000</text>
<line x1="116.25" y1="546.2" x2="116.25" y2="538.2" stroke="#000" stroke-width="1.3"/>
<line x1="116.25" y1="301.2" x2="116.25" y2="309.2" stroke="#000" stroke-width="1.3"/>
<text x="116.25" y="566.8" text-anchor="middle">-800</text>
<line x1="160.71" y1="546.2" x2="160.71" y2="538.2" stroke="#000" stroke-width="1.3"/>
<line x1="160.71" y1="301.2" x2="160.71" y2="309.2" stroke="#000" stroke-width="1.3"/>
<text x="160.71" y="566.8" text-anchor="middle">-600</text>
<line x1="205.16" y1="546.2" x2="205.16" y2="538.2" stroke="#000" stroke-width="1.3"/>
<line x1="205.16" y1="301.2" x2="205.16" y2="309.2" stroke="#000" stroke-width="1.3"/>
<text x="205.16" y="566.8" text-anchor="middle">-400</text>
<line x1="249.62" y1="546.2" x2="249.62" y2="538.2" stroke="#000" stroke-width="1.3"/>
<line x1="249.62" y1="301.2" x2="249.62" y2="309.2" stroke="#000" stroke-width="1.3"/>
<text x="249.62" y="566.8" text-anchor="middle">-200</text>
<line x1="294.07" y1="546.2" x2="294.07" y2="538.2" stroke="#000" stroke-width="1.3"/>
<line x1="294.07" y1="301.2" x2="294.07" y2="309.2" stroke="#000" stroke-width="1.3"/>
<text x="294.07" y="566.8" text-anchor="middle">0</text>
<line x1="71.8" y1="320" x2="79.8" y2="320" stroke="#000" stroke-width="1.3"/>
<line x1="316.3" y1="320" x2="308.3" y2="320" stroke="#000" stroke-width="1.3"/>
<text x="67" y="325.8" text-anchor="end">100</text>
<line x1="71.8" y1="357.7" x2="79.8" y2="357.7" stroke="#000" stroke-width="1.3"/>
<line x1="316.3" y1="357.7" x2="308.3" y2="357.7" stroke="#000" stroke-width="1.3"/>
<text x="67" y="363.5" text-anchor="end">0</text>
<line x1="71.8" y1="395.4" x2="79.8" y2="395.4" stroke="#000" stroke-width="1.3"/>
<line x1="316.3" y1="395.4" x2="308.3" y2="395.4" stroke="#000" stroke-width="1.3"/>
<text x="67" y="401.2" text-anchor="end">-100</text>
<line x1="71.8" y1="433.1" x2="79.8" y2="433.1" stroke="#000" stroke-width="1.3"/>
<line x1="316.3" y1="433.1" x2="308.3" y2="433.1" stroke="#000" stroke-width="1.3"/>
<text x="67" y="438.9" text-anchor="end">-200</text>
<line x1="71.8" y1="470.8" x2="79.8" y2="470.8" stroke="#000" stroke-width="1.3"/>
<line x1="316.3" y1="470.8" x2="308.3" y2="470.8" stroke="#000" stroke-width="1.3"/>
<text x="67" y="476.6" text-anchor="end">-300</text>
<line x1="71.8" y1="508.5" x2="79.8" y2="508.5" stroke="#000" stroke-width="1.3"/>
<line x1="316.3" y1="508.5" x2="308.3" y2="508.5" stroke="#000" stroke-width="1.3"/>
<text x="67" y="514.3" text-anchor="end">-400</text>
<line x1="71.8" y1="546.2" x2="79.8" y2="546.2" stroke="#000" stroke-width="1.3"/>
<line x1="316.3" y1="546.2" x2="308.3" y2="546.2" stroke="#000" stroke-width="1.3"/>
<text x="67" y="552" text-anchor="end">-500</text>
<text x="78.2" y="24.1" font-size="16.4">(a)</text>
<text x="402.1" y="26.8" font-size="16.4">(b)</text>
<text x="85.2" y="325" font-size="16.4">(c)</text>
<text x="129.5" y="286.5">δ(<tspan dy="-10" font-size="11">92</tspan><tspan dy="10">Mo/</tspan><tspan dy="-10" font-size="11">96</tspan><tspan dy="10">Mo) (‰)</tspan></text>
<text x="452.8" y="288">δ(<tspan dy="-10" font-size="11">92</tspan><tspan dy="10">Mo/</tspan><tspan dy="-10" font-size="11">96</tspan><tspan dy="10">Mo) (‰)</tspan></text>
<text x="128.5" y="597.9">δ(<tspan dy="-10" font-size="11">92</tspan><tspan dy="10">Mo/</tspan><tspan dy="-10" font-size="11">96</tspan><tspan dy="10">Mo) (‰)</tspan></text>
<text transform="translate(20.4,127.4) rotate(-90)" text-anchor="middle">δ(<tspan dy="-10" font-size="11">95</tspan><tspan dy="10">Mo/</tspan><tspan dy="-10" font-size="11">96</tspan><tspan dy="10">Mo) (‰)</tspan></text>
<text transform="translate(349.8,126.7) rotate(-90)" text-anchor="middle">δ(<tspan dy="-10" font-size="11">97</tspan><tspan dy="10">Mo/</tspan><tspan dy="-10" font-size="11">96</tspan><tspan dy="10">Mo) (‰)</tspan></text>
<text transform="translate(20.4,423.5) rotate(-90)" text-anchor="middle">δ(<tspan dy="-10" font-size="11">98</tspan><tspan dy="10">Mo/</tspan><tspan dy="-10" font-size="11">96</tspan><tspan dy="10">Mo) (‰)</tspan></text>
<rect x="350.6" y="338.1" width="277.8" height="150.2" fill="#fff" stroke="#000" stroke-width="1.3"/>
<g font-size="11.25">
<text x="353.5" y="351.3">CHILI data</text>
<path d="M415.9 344.9H423.3L419.6 351.4Z" fill="#000" stroke="#e6e62a" stroke-width="0.9"/>
<text x="431.8" y="351.3">Y</text>
<rect x="449" y="344.4" width="6.4" height="6.4" fill="#000" stroke="#e6e62a" stroke-width="0.8"/>
<text x="463.8" y="351.3">Z (this study)</text>
<circle cx="418.9" cy="360.6" r="3.2" fill="#d8d8d8" stroke="#5a5a5a" stroke-width="0.9"/>
<text x="431.5" y="364.4">MS (Liu et al. 2017b)</text>
<text x="353.5" y="377.1" id="upd">Updated 2 M</text>
<circle cx="421.8" cy="377.1" r="2.6" fill="#fff" stroke="#777" stroke-width="0.8"/><circle cx="421.8" cy="377.1" r="0.85" fill="#222"/>
<text x="428.3" y="377.1">FRUITY Torino models (KADoNiS v1.0)</text>
<text x="353.3" y="396.7">Trippella pocket (5.0 x 10</text>
<text x="479.9" y="389.6" font-size="7.6">-3</text>
<text x="489.8" y="396.7">M</text>
<circle cx="503.3" cy="396.4" r="2.6" fill="#fff" stroke="#777" stroke-width="0.8"/><circle cx="503.3" cy="396.4" r="0.85" fill="#222"/>
<text x="510.4" y="396.7">) in Original case</text>
<line x1="355.2" y1="410.4" x2="380.8" y2="410.4" stroke="#e01010" stroke-width="1.3"/>
<polygon points="368.1,406.4 372.09,409.3 370.57,414 365.63,414 364.11,409.3" fill="#d41818" stroke="#7a0000" stroke-width="0.6"/>
<text x="386.4" y="414.2">Z</text>
<circle cx="397.4" cy="414.1" r="2.6" fill="#fff" stroke="#777" stroke-width="0.8"/><circle cx="397.4" cy="414.1" r="0.85" fill="#222"/>
<line x1="405.6" y1="410.4" x2="427.2" y2="410.4" stroke="#0000ff" stroke-width="1.3"/>
<circle cx="416.6" cy="410.4" r="3.4" fill="#0a0aee" stroke="#0000a0" stroke-width="0.5"/>
<text x="431.5" y="414.2">0.72 Z</text>
<circle cx="467.3" cy="414.1" r="2.6" fill="#fff" stroke="#777" stroke-width="0.8"/><circle cx="467.3" cy="414.1" r="0.85" fill="#222"/>
<line x1="355" y1="429.8" x2="376" y2="429.8" stroke="#4a3cff" stroke-width="1.3"/>
<circle cx="365.5" cy="429.8" r="3.5" fill="#fff" stroke="#4a3cff" stroke-width="1"/><circle cx="365.5" cy="429.8" r="0.6" fill="#4a3cff"/>
<text x="377.4" y="433.3">0.72 Z</text>
<circle cx="413.7" cy="433.1" r="2.6" fill="#fff" stroke="#777" stroke-width="0.8"/><circle cx="413.7" cy="433.1" r="0.85" fill="#222"/>
<text x="420.4" y="433.3">(0.9 x</text>
<text x="452.1" y="426.1" font-size="7.6">95</text>
<text x="460.3" y="433.3">Mo and 0.95 x</text>
<text x="536" y="426.1" font-size="7.6">98</text>
<text x="544.1" y="433.3">Mo MACS)</text>
<text x="353.3" y="452.8">Trippella pocket (3.3 x 10</text>
<text x="479.9" y="445.7" font-size="7.6">-3</text>
<text x="489.8" y="452.8">M</text>
<circle cx="503.3" cy="452.5" r="2.6" fill="#fff" stroke="#777" stroke-width="0.8"/><circle cx="503.3" cy="452.5" r="0.85" fill="#222"/>
<text x="510.4" y="452.8">) in D3 case</text>
<text x="353.3" y="468.2">KADoNiS v1.0</text>
<line x1="427.4" y1="464.5" x2="448.2" y2="464.5" stroke="#6cd02a" stroke-width="1.3"/>
<circle cx="437.8" cy="464.5" r="3.2" fill="#62c81e" stroke="#1e4a06" stroke-width="0.8"/>
<text x="450.6" y="468.2">0.72 Z</text>
<circle cx="485.8" cy="468" r="2.6" fill="#fff" stroke="#777" stroke-width="0.8"/><circle cx="485.8" cy="468" r="0.85" fill="#222"/>
<line x1="356" y1="479.3" x2="375.3" y2="479.3" stroke="#c800c0" stroke-width="2.7" stroke-linecap="round"/>
<text x="381.1" y="482.2">linear fit to all the grains</text>
</g>
</svg></body></html>
